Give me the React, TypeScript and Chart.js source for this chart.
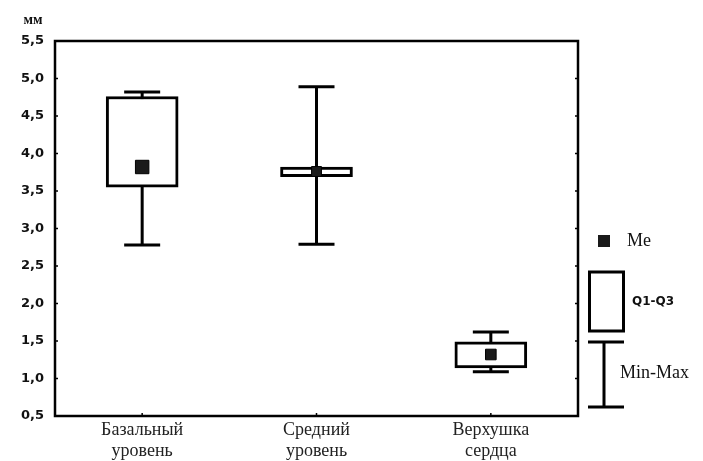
import React, { useEffect, useRef } from "react";
import { Chart, registerables } from "chart.js";

Chart.register(...registerables);

const categories: string[][] = [
  ["Базальный", "уровень"],
  ["Средний", "уровень"],
  ["Верхушка", "сердца"],
];
const mins = [2.78, 2.79, 1.09];
const q1s = [3.55, 3.69, 1.14];
const medians = [3.82, 3.76, 1.32];
const q3s = [4.76, 3.82, 1.49];
const maxs = [4.82, 4.89, 1.62];

const yMin = 0.5;
const yMax = 5.5;
const yStep = 0.5;
const unitLabel = "мм";
const legendMe = "Me";
const legendBox = "Q1-Q3";
const legendRange = "Min-Max";

const boxPlotPlugin = {
  id: "boxPlotExtras",
  beforeDatasetsDraw(chart: any) {
    const { ctx, scales } = chart;
    const xs = scales.x;
    const ys = scales.y;
    const barMeta = chart.getDatasetMeta(1);
    ctx.save();
    ctx.strokeStyle = "#000";
    ctx.lineWidth = 3;
    ctx.lineCap = "butt";
    for (let i = 0; i < mins.length; i++) {
      const x = xs.getPixelForValue(i);
      const bw = barMeta.data[i] ? barMeta.data[i].width : 72;
      const half = bw / 4;
      const yLo = ys.getPixelForValue(mins[i]);
      const yHi = ys.getPixelForValue(maxs[i]);
      ctx.beginPath();
      ctx.moveTo(x, yLo);
      ctx.lineTo(x, yHi);
      ctx.moveTo(x - half, yLo);
      ctx.lineTo(x + half, yLo);
      ctx.moveTo(x - half, yHi);
      ctx.lineTo(x + half, yHi);
      ctx.stroke();
    }
    ctx.restore();
  },
  afterDraw(chart: any) {
    const { ctx, chartArea, scales } = chart;
    const { left, right, top, bottom } = chartArea;
    ctx.save();
    // frame
    ctx.strokeStyle = "#000";
    ctx.lineWidth = 2.5;
    ctx.strokeRect(left, top, right - left, bottom - top);
    // inner ticks
    ctx.lineWidth = 1.5;
    ctx.beginPath();
    scales.y.ticks.forEach((t: any) => {
      const y = scales.y.getPixelForValue(t.value);
      ctx.moveTo(left, y);
      ctx.lineTo(left + 3, y);
      ctx.moveTo(right, y);
      ctx.lineTo(right - 3, y);
    });
    for (let i = 0; i < categories.length; i++) {
      const x = scales.x.getPixelForValue(i);
      ctx.moveTo(x, bottom);
      ctx.lineTo(x, bottom - 3);
    }
    ctx.stroke();

    // unit label
    ctx.fillStyle = "#111";
    ctx.font = "bold 14px 'Liberation Serif'";
    ctx.textAlign = "center";
    ctx.textBaseline = "middle";
    ctx.fillText(unitLabel, 33, 20);

    // legend
    const R = right;
    ctx.fillStyle = "#1a1a1a";
    ctx.fillRect(R + 20, 235, 12, 12);
    ctx.fillStyle = "#111";
    ctx.textAlign = "left";
    ctx.font = "18px 'Liberation Serif'";
    ctx.fillText(legendMe, R + 49, 241);

    ctx.lineWidth = 3;
    ctx.strokeStyle = "#000";
    ctx.strokeRect(R + 11.5, 272, 34, 59);
    ctx.font = "bold 12px 'DejaVu Sans'";
    ctx.fillText(legendBox, R + 54, 302);

    ctx.beginPath();
    ctx.moveTo(R + 10, 342);
    ctx.lineTo(R + 46, 342);
    ctx.moveTo(R + 10, 407);
    ctx.lineTo(R + 46, 407);
    ctx.moveTo(R + 26, 342);
    ctx.lineTo(R + 26, 407);
    ctx.stroke();
    ctx.font = "18px 'Liberation Serif'";
    ctx.fillText(legendRange, R + 42, 373);
    ctx.restore();
  },
};

export default function App() {
  const ref = useRef<HTMLCanvasElement | null>(null);
  useEffect(() => {
    if (!ref.current) return;
    const chart = new Chart(ref.current, {
      type: "bar",
      data: {
        labels: categories,
        datasets: [
          {
            type: "line",
            label: "Me",
            data: medians,
            showLine: false,
            pointStyle: "rect",
            pointRadius: [9.5, 7, 7.5],
            pointBackgroundColor: "#1a1a1a",
            pointBorderColor: "#000",
            pointBorderWidth: 1,
            order: 0,
          } as any,
          {
            type: "bar",
            label: "Q1-Q3",
            data: q1s.map((v, i) => [v, q3s[i]]),
            backgroundColor: "#fff",
            borderColor: "#000",
            borderWidth: 3,
            borderSkipped: false,
            barThickness: 72,
            order: 1,
          } as any,
        ],
      },
      options: {
        animation: false,
        responsive: true,
        maintainAspectRatio: false,
        layout: { padding: { left: 0, top: 41, right: 125, bottom: 0 } },
        plugins: { legend: { display: false }, tooltip: { enabled: false } },
        scales: {
          x: {
            type: "category",
            offset: true,
            grid: { display: false, drawTicks: false },
            border: { display: false },
            ticks: {
              color: "#222",
              padding: 4,
              maxRotation: 0,
              autoSkip: false,
              font: { family: "'Liberation Serif'", size: 18, lineHeight: 1.17 },
            },
            afterFit(scale: any) {
              scale.height = 45;
            },
          },
          y: {
            min: yMin,
            max: yMax,
            grid: { display: false, drawTicks: false },
            border: { display: false },
            ticks: {
              stepSize: yStep,
              color: "#111",
              padding: 11,
              font: { family: "'DejaVu Sans'", size: 13, weight: "bold" },
              callback: (v: any) => Number(v).toFixed(1).replace(".", ","),
            },
            afterFit(scale: any) {
              scale.width = 55;
            },
          },
        },
      },
      plugins: [boxPlotPlugin],
    } as any);
    return () => chart.destroy();
  }, []);
  return (
    <div style={{ position: "fixed", left: 0, top: 0, width: 703, height: 461, background: "#fff" }}>
      <canvas ref={ref} />
    </div>
  );
}
